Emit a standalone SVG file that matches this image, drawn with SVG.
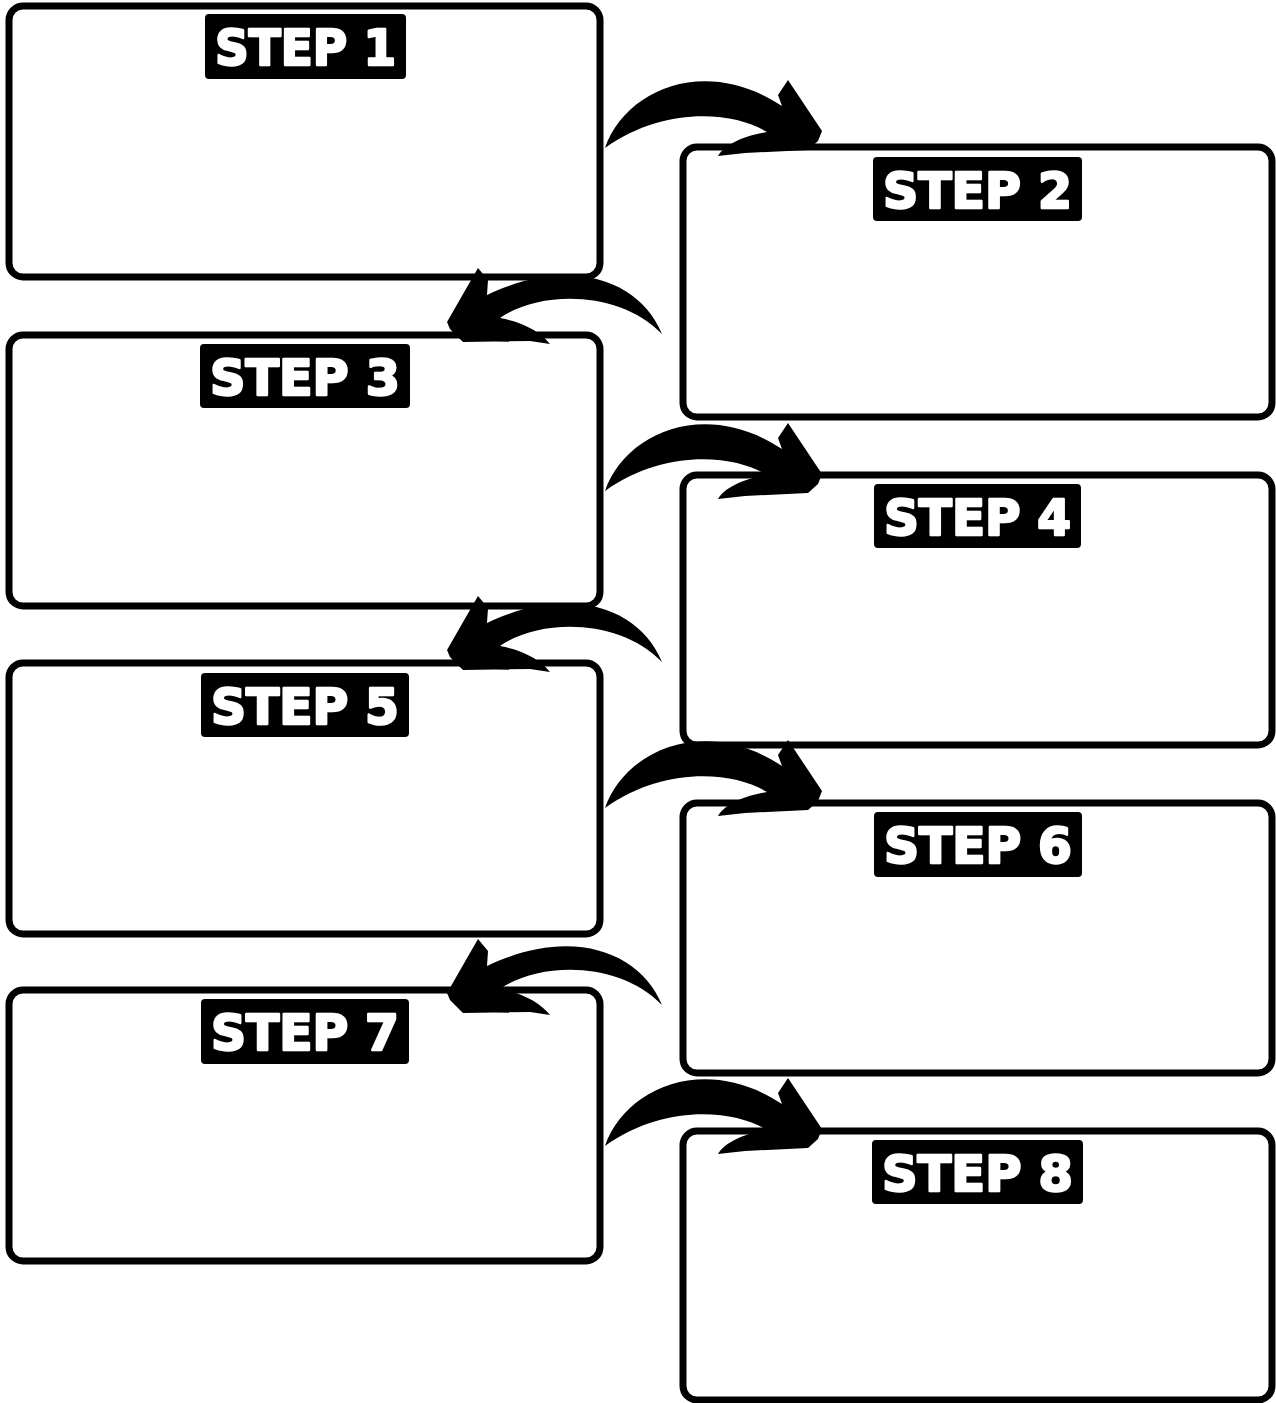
<svg xmlns="http://www.w3.org/2000/svg" width="1276" height="1403" viewBox="0 0 1276 1403">
<style>
.box{fill:#fff;stroke:#000;stroke-width:7}
.tag{fill:#000}
.lbl{fill:#fff;stroke:#fff;stroke-width:2.5;stroke-linejoin:round;font-family:"DejaVu Sans",sans-serif;font-weight:bold;font-size:50px}
.arr{fill:#000}
</style>
<defs>
<path id="ra" d="M605,148 C625,90 705,55 782,106 L778,95 L788,80 L822,131 L818,141 L808,150 L745,153 L718,156 C725,145 740,137 767,132 C735,112 665,105 605,148 Z"/>
<path id="la" d="M662,334 C640,280 570,255 487,295 L488,280 L478,268 L447,322 L450,329 L463,342 L530,341 L550,344 C540,332 525,323 500,318 C540,290 620,290 662,334 Z"/>
</defs>
<rect width="1276" height="1403" fill="#fff"/>
<g id="step1"><rect class="box" x="9" y="6" width="591" height="271" rx="14"/><rect class="tag" x="205" y="14" width="201" height="65" rx="4"/><text class="lbl" x="215" y="65" textLength="181" lengthAdjust="spacingAndGlyphs">STEP 1</text></g>
<g id="step2"><rect class="box" x="683" y="147" width="589" height="270" rx="14"/><rect class="tag" x="873" y="157" width="209" height="64" rx="4"/><text class="lbl" x="883" y="208" textLength="189" lengthAdjust="spacingAndGlyphs">STEP 2</text></g>
<g id="step3"><rect class="box" x="9" y="335" width="591" height="271" rx="14"/><rect class="tag" x="200" y="344" width="210" height="64" rx="4"/><text class="lbl" x="210" y="395" textLength="190" lengthAdjust="spacingAndGlyphs">STEP 3</text></g>
<g id="step4"><rect class="box" x="683" y="475" width="589" height="270" rx="14"/><rect class="tag" x="874" y="484" width="207" height="64" rx="4"/><text class="lbl" x="884" y="535" textLength="187" lengthAdjust="spacingAndGlyphs">STEP 4</text></g>
<g id="step5"><rect class="box" x="9" y="663" width="591" height="271" rx="14"/><rect class="tag" x="201" y="673" width="208" height="64" rx="4"/><text class="lbl" x="211" y="724" textLength="188" lengthAdjust="spacingAndGlyphs">STEP 5</text></g>
<g id="step6"><rect class="box" x="683" y="803" width="589" height="270" rx="14"/><rect class="tag" x="874" y="812" width="208" height="65" rx="4"/><text class="lbl" x="884" y="863" textLength="188" lengthAdjust="spacingAndGlyphs">STEP 6</text></g>
<g id="step7"><rect class="box" x="9" y="990" width="591" height="271" rx="14"/><rect class="tag" x="201" y="999" width="208" height="65" rx="4"/><text class="lbl" x="211" y="1050" textLength="188" lengthAdjust="spacingAndGlyphs">STEP 7</text></g>
<g id="step8"><rect class="box" x="683" y="1131" width="589" height="269" rx="14"/><rect class="tag" x="872" y="1140" width="211" height="64" rx="4"/><text class="lbl" x="882" y="1191" textLength="191" lengthAdjust="spacingAndGlyphs">STEP 8</text></g>
<g id="connectors" class="arr">
<use href="#ra"/>
<use href="#ra" y="343"/>
<use href="#ra" y="660"/>
<use href="#ra" y="998"/>
<use href="#la"/>
<use href="#la" y="328"/>
<use href="#la" y="671"/>
</g>
</svg>
